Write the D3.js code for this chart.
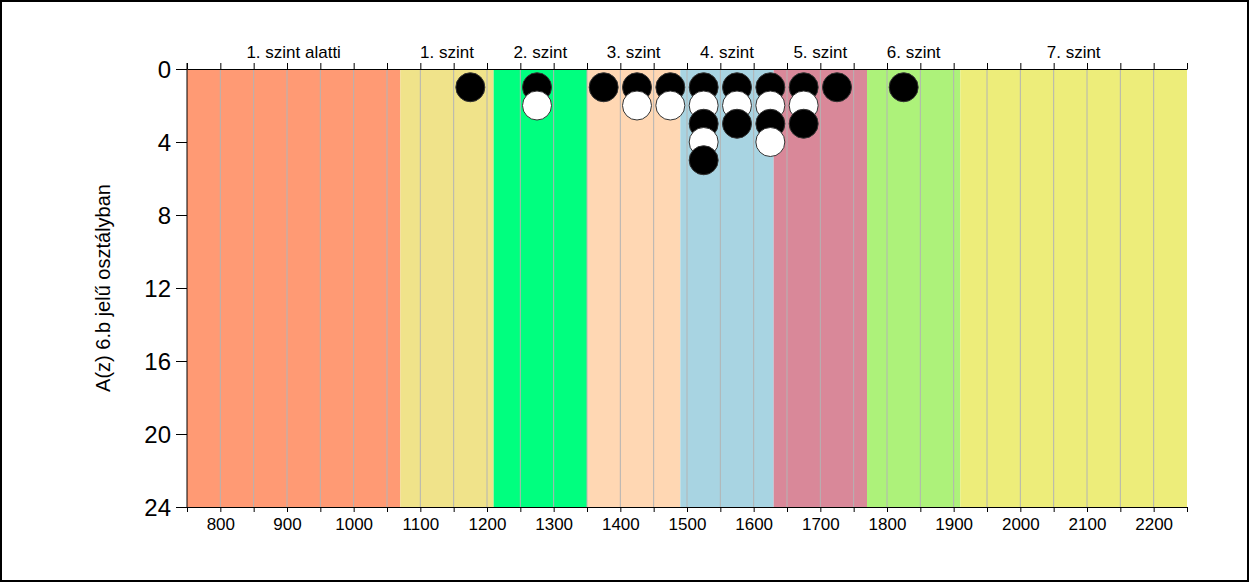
<!DOCTYPE html>
<html><head><meta charset="utf-8">
<script src="https://cdn.jsdelivr.net/npm/d3@7"></script>
<style>body{margin:0;background:#fff;} svg{display:block;} text{font-family:"Liberation Sans",Arial,sans-serif;}</style>
</head><body>
<svg id="c" width="1250" height="583"></svg>
<script>
const bandLabels = ["1. szint alatti","1. szint","2. szint","3. szint","4. szint","5. szint","6. szint","7. szint"];
const bandStarts = [750,1070,1210,1350,1490,1630,1770,1910];
const bandEnds   = [1070,1210,1350,1490,1630,1770,1910,2250];
const bandColors = ["#FF9A74","#F0E38A","#00FF7F","#FFD7B3","#A8D4E2","#D98899","#ADF27A","#EDED7A"];
const xTickLabels = [800,900,1000,1100,1200,1300,1400,1500,1600,1700,1800,1900,2000,2100,2200];
const yTickLabels = [0,4,8,12,16,20,24];
const dotScore = [1175,1275,1275,1375,1425,1425,1475,1475,1525,1525,1525,1525,1525,1575,1575,1575,1625,1625,1625,1625,1675,1675,1675,1725,1825];
const dotCount = [1,1,2,1,1,2,1,2,1,2,3,4,5,1,2,3,1,2,3,4,1,2,3,1,1];
const dotFill  = ["black","black","white","black","black","white","black","white","black","white","black","white","black","black","white","black","black","white","black","white","black","white","black","black","black"];

const svg = d3.select("#c");
svg.append("rect").attr("x",1).attr("y",1).attr("width",1247).attr("height",580)
  .attr("fill","#fff").attr("stroke","#000").attr("stroke-width",2);

const x = d3.scaleLinear().domain([750,2250]).range([187,1187]);
const y = d3.scaleLinear().domain([0,24]).range([69,507]);

svg.append("g").selectAll("rect").data(bandLabels).join("rect")
  .attr("x",(d,i)=>x(bandStarts[i])).attr("y",y(0))
  .attr("width",(d,i)=>x(bandEnds[i])-x(bandStarts[i])).attr("height",y(24)-y(0))
  .attr("fill",(d,i)=>bandColors[i]);

const grid = d3.range(800,2250,50);
svg.append("g").selectAll("line").data(grid).join("line")
  .attr("x1",d=>x(d)).attr("x2",d=>x(d)).attr("y1",y(0)).attr("y2",y(24))
  .attr("stroke","#B4B4B4").attr("stroke-width",1);

const allTicks = d3.range(750,2251,50);
const bAxis = svg.append("g").attr("transform",`translate(0,${y(24)})`)
  .call(d3.axisBottom(x).tickValues(allTicks).tickSize(5).tickSizeOuter(0)
    .tickFormat(d=> xTickLabels.includes(d)? String(d):""));
bAxis.selectAll("text").attr("font-size",17).attr("fill","#000").attr("y",9).attr("dy","0.8em");
bAxis.selectAll("line,path").attr("stroke","#000");

const tAxis = svg.append("g").attr("transform",`translate(0,${y(0)})`)
  .call(d3.axisTop(x).tickValues(allTicks).tickSize(6).tickSizeOuter(0).tickFormat(""));
tAxis.selectAll("line,path").attr("stroke","#000");

svg.append("g").selectAll("text").data(bandLabels).join("text")
  .attr("x",(d,i)=>x((bandStarts[i]+bandEnds[i])/2)).attr("y",58)
  .attr("text-anchor","middle").attr("font-size",17).text(d=>d);

const lAxis = svg.append("g").attr("transform",`translate(${x(750)},0)`)
  .call(d3.axisLeft(y).tickValues(yTickLabels).tickSize(11).tickSizeOuter(0));
lAxis.selectAll("text").attr("font-size",24).attr("fill","#000").attr("dy","0.36em").attr("dx","-2");
lAxis.selectAll("line,path").attr("stroke","#000");
lAxis.select("path").attr("d",`M0,${y(0)-6}V${y(24)}`);

svg.append("text").attr("transform",`translate(110,${(y(0)+y(24))/2}) rotate(-90)`)
  .attr("text-anchor","middle").attr("font-size",20).text("A(z) 6.b jelű osztályban");

svg.append("g").selectAll("circle").data(dotScore).join("circle")
  .attr("cx",d=>x(d)).attr("cy",(d,i)=>y(dotCount[i])).attr("r",14.5)
  .attr("fill",(d,i)=>dotFill[i]).attr("stroke","#333").attr("stroke-width",1);
</script>
</body></html>
